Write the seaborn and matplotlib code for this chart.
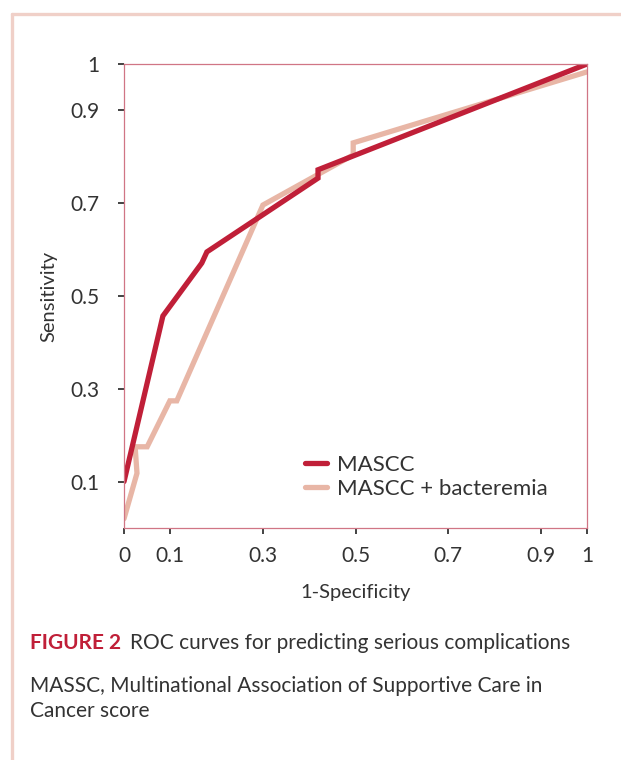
import matplotlib
matplotlib.use('Agg')
import matplotlib.pyplot as plt
import seaborn as sns
import pandas as pd
from matplotlib.lines import Line2D

# ROC curve points
mascc_fpr = [0.0, 0.084, 0.168, 0.179, 0.419, 0.419, 1.0]
mascc_tpr = [0.10, 0.457, 0.571, 0.595, 0.754, 0.772, 1.0]

bact_fpr = [0.0, 0.028, 0.024, 0.050, 0.099, 0.114, 0.300, 0.495, 0.495, 1.0]
bact_tpr = [0.02, 0.118, 0.175, 0.175, 0.274, 0.274, 0.696, 0.804, 0.830, 0.983]

x_ticks = [0, 0.1, 0.3, 0.5, 0.7, 0.9, 1]
x_labels = ['0', '0.1', '0.3', '0.5', '0.7', '0.9', '1']
y_ticks = [0.1, 0.3, 0.5, 0.7, 0.9, 1]
y_labels = ['0.1', '0.3', '0.5', '0.7', '0.9', '1']

models = ['MASCC', 'MASCC + bacteremia']
colors = {'MASCC': '#c01f38', 'MASCC + bacteremia': '#e8b6a6'}

df = pd.concat([
    pd.DataFrame({'fpr': mascc_fpr, 'tpr': mascc_tpr, 'model': models[0]}),
    pd.DataFrame({'fpr': bact_fpr, 'tpr': bact_tpr, 'model': models[1]}),
])

sns.set_style('white')
plt.rcParams['font.family'] = ['Lato', 'DejaVu Sans']
txt = '#333333'

fig = plt.figure(figsize=(6.21, 7.60), dpi=100)
ax = fig.add_axes([0.1997, 0.3053, 0.7456, 0.6105])

# draw bacteremia first so MASCC sits on top
sns.lineplot(data=df[df.model == models[1]], x='fpr', y='tpr', sort=False,
             estimator=None, color=colors[models[1]], linewidth=3.8, ax=ax,
             solid_joinstyle='miter')
sns.lineplot(data=df[df.model == models[0]], x='fpr', y='tpr', sort=False,
             estimator=None, color=colors[models[0]], linewidth=3.8, ax=ax,
             solid_joinstyle='miter')

ax.set_xlim(0, 1)
ax.set_ylim(0, 1)
ax.set_xticks(x_ticks)
ax.set_xticklabels(x_labels)
ax.set_yticks(y_ticks)
ax.set_yticklabels(y_labels)
ax.tick_params(axis='both', direction='out', length=4, width=1.2, color='#222222',
               labelsize=15, labelcolor=txt, bottom=True, left=True)
ax.tick_params(axis='x', pad=9)
ax.tick_params(axis='y', pad=14)
for s in ax.spines.values():
    s.set_color('#d07585')
    s.set_linewidth(0.9)
ax.set_xlabel('1-Specificity', fontsize=14.5, color=txt, labelpad=13)
ax.set_ylabel('Sensitivity', fontsize=14.5, color=txt, labelpad=9)

handles = [Line2D([], [], color=colors[m], linewidth=3.8) for m in models]
ax.legend(handles, models, loc='upper left', bbox_to_anchor=(0.391, 0.158),
          frameon=False, fontsize=16, handlelength=1.0, handletextpad=0.45,
          labelspacing=0.18, borderpad=0, borderaxespad=0, labelcolor=txt)

# page frame
fig.add_artist(Line2D([12 / 621, 1], [1 - 14 / 760, 1 - 14 / 760],
                      color='#f0d0c8', linewidth=2.4, transform=fig.transFigure))
fig.add_artist(Line2D([12 / 621, 12 / 621], [0, 1 - 14 / 760],
                      color='#f0d0c8', linewidth=2.4, transform=fig.transFigure))

# caption
fig.text(30 / 621, 1 - 643 / 760, 'FIGURE 2', fontsize=15, fontweight='bold',
         color='#c01f38', va='center')
fig.text(130 / 621, 1 - 643 / 760, 'ROC curves for predicting serious complications',
         fontsize=15, color=txt, va='center')
fig.text(30 / 621, 1 - 686 / 760, 'MASSC, Multinational Association of Supportive Care in',
         fontsize=15, color=txt, va='center')
fig.text(30 / 621, 1 - 711 / 760, 'Cancer score',
         fontsize=15, color=txt, va='center')

fig.savefig('out.png', dpi=100)
